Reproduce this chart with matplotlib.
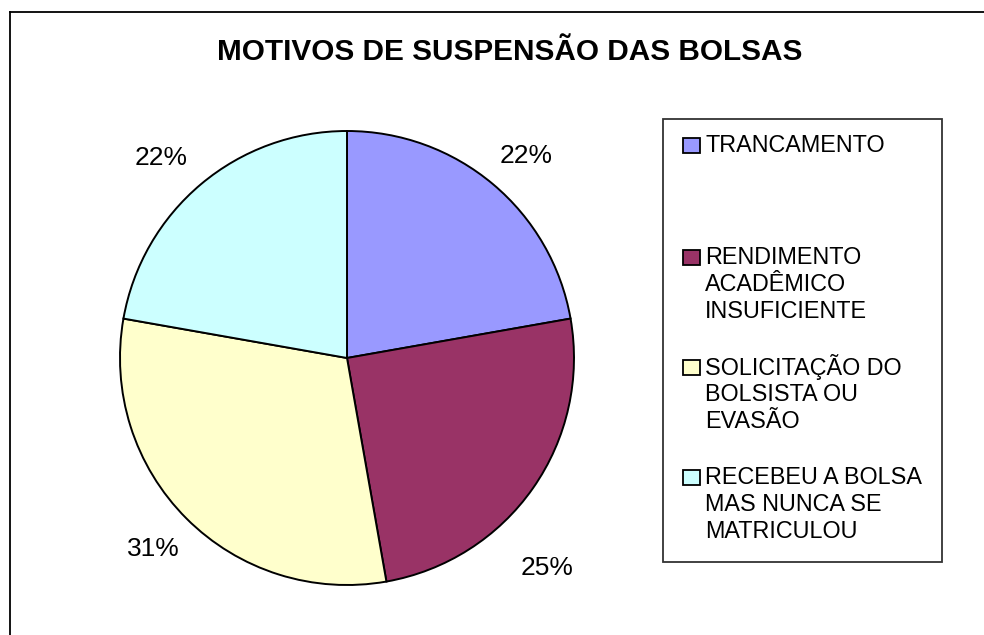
import matplotlib
matplotlib.use('Agg')
import matplotlib.pyplot as plt
from matplotlib.patches import Rectangle

plt.rcParams['font.family'] = ['Liberation Sans', 'DejaVu Sans']

# Data
title = 'MOTIVOS DE SUSPENSÃO DAS BOLSAS'
categories = ['TRANCAMENTO',
              'RENDIMENTO\nACADÊMICO\nINSUFICIENTE',
              'SOLICITAÇÃO DO\nBOLSISTA OU\nEVASÃO',
              'RECEBEU A BOLSA\nMAS NUNCA SE\nMATRICULOU']
counts = [8, 9, 11, 8]
colors = ['#9999FF', '#993366', '#FFFFCC', '#CCFFFF']

W, H = 984, 635
fig = plt.figure(figsize=(W / 100, H / 100), dpi=100)
fig.patch.set_facecolor('white')

# overlay axes in pixel coordinates (frame, title, legend)
bg = fig.add_axes([0, 0, 1, 1])
bg.set_xlim(0, W)
bg.set_ylim(H, 0)
bg.axis('off')

# chart frame (only left/top edges visible)
bg.plot([9.5, 9.5], [H + 5, 11.5], color='black', lw=1.3)
bg.plot([9.5, W + 5], [11.5, 11.5], color='black', lw=1.3)

bg.text(510, 52, title, ha='center', va='center', fontsize=21.4, fontweight='bold')

# pie
cx, cy, r = 347, 358, 227
ax = fig.add_axes([(cx - r) / W, (H - cy - r) / H, 2 * r / W, 2 * r / H])
wedges, texts, autotexts = ax.pie(
    counts, colors=colors, startangle=90, counterclock=False,
    autopct=lambda p: '%.0f%%' % p, pctdistance=1.2,
    wedgeprops=dict(edgecolor='black', linewidth=1.4),
    textprops=dict(fontsize=19))
ax.set_xlim(-1, 1)
ax.set_ylim(-1, 1)
ax.set_aspect('equal')
ax.axis('off')
for w in wedges:
    w.set_clip_on(False)

# label offsets as in the original (Excel-style placement)
label_pos = [(0.79, 0.89), (0.88, -0.925), (-0.855, -0.84), (-0.82, 0.88)]
for t, pos in zip(autotexts, label_pos):
    t.set_position(pos)
    t.set_ha('center')
    t.set_va('center')

# legend
bg.add_patch(Rectangle((663, 119), 279, 443, facecolor='white',
                       edgecolor='#333333', lw=1.3))
entry_y = [145, 257, 367, 477]
line_h = 27.5
for label, col, y in zip(categories, colors, entry_y):
    bg.add_patch(Rectangle((683, y - 7.5), 17, 15, facecolor=col,
                           edgecolor='black', lw=1.3))
    for i, line in enumerate(label.split('\n')):
        bg.text(705, y + i * line_h, line, ha='left', va='center', fontsize=16.8)

plt.savefig('out.png', dpi=100)
